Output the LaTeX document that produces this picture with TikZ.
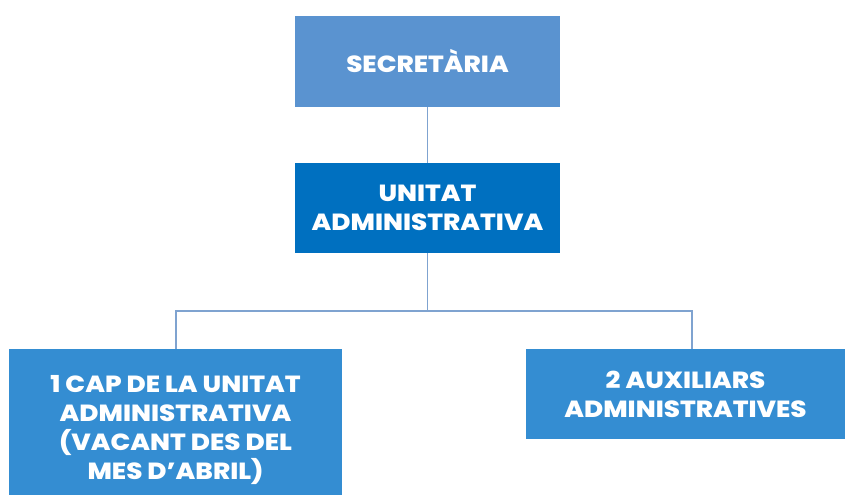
\documentclass[tikz,border=0pt]{standalone}
\usepackage{fontspec}
\setmainfont{Poppins}
\newfontfamily\heavy{Poppins ExtraBold}[FakeStretch=1.12]
\begin{document}
\begin{tikzpicture}[x=0.75pt,y=-0.75pt,
  box/.style={draw=none,fill=#1,text=white,font=\heavy\fontsize{17.5}{21.75}\selectfont,align=center,inner sep=0pt},
  link/.style={draw=lineblue,line width=1pt}]
\definecolor{lightbox}{HTML}{5A93D0}
\definecolor{darkbox}{HTML}{0070C0}
\definecolor{midbox}{HTML}{348DD2}
\definecolor{lineblue}{HTML}{7FA3D0}
\useasboundingbox (0,0) rectangle (845,495);
\node[box=lightbox,minimum width=265*0.75pt,minimum height=91*0.75pt] (sec) at (427.5,61.5) {SECRETÀRIA};
\node[box=darkbox,minimum width=265*0.75pt,minimum height=90*0.75pt] (uni) at (427.5,208) {UNITAT\\ADMINISTRATIVA};
\node[box=midbox,minimum width=333*0.75pt,minimum height=162*0.75pt] (cap) at (175.5,430) {1 CAP DE LA UNITAT\\ADMINISTRATIVA\\(VACANT DES DEL\\MES D’ABRIL)};
\node[box=midbox,minimum width=319*0.75pt,minimum height=90*0.75pt] (aux) at (685.5,394) {2 AUXILIARS\\ADMINISTRATIVES};
\coordinate (j) at (427.5,311);
\draw[link] (sec.south) -- (uni.north);
\draw[link] (uni.south) -- (j);
\draw[link] (j) -| (cap.north-|176,0);
\draw[link] (j) -| (aux.north-|692,0);
\end{tikzpicture}
\end{document}
